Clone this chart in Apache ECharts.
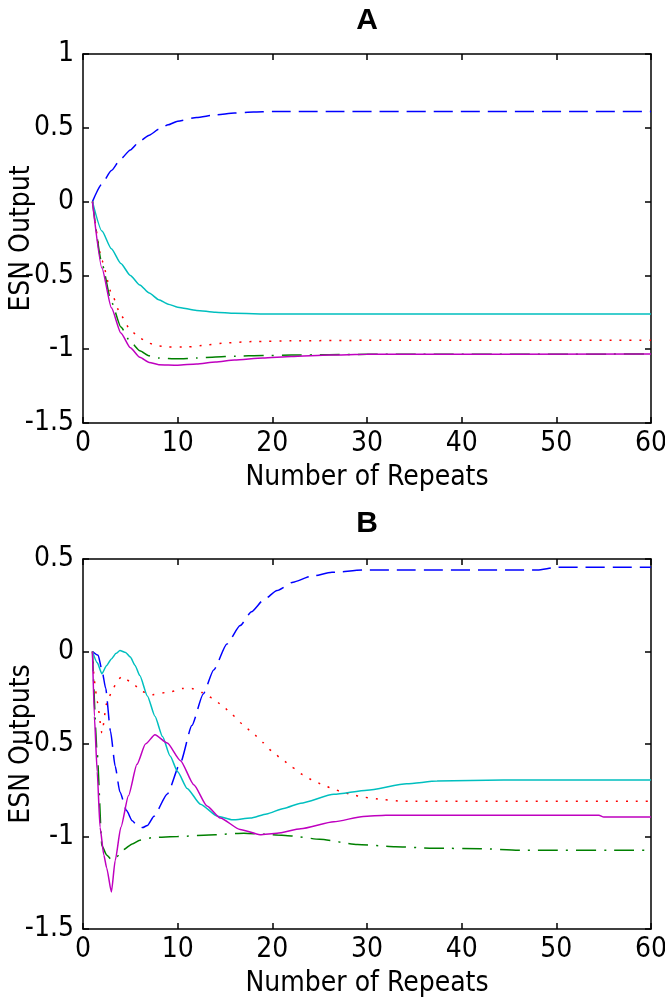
<!DOCTYPE html>
<html>
<head>
<meta charset="utf-8">
<script src="https://cdn.jsdelivr.net/npm/echarts@6/dist/echarts.min.js"></script>
<style>
html,body{margin:0;padding:0;background:#fff;}
#chart{width:665px;height:1004px;}
</style>
</head>
<body>
<div id="chart"></div>
<script>
// ---- Data ----
const xTicks = [0, 10, 20, 30, 40, 50, 60];
const yTicksA = [1, 0.5, 0, -0.5, -1, -1.5];
const yTicksB = [0.5, 0, -0.5, -1, -1.5];

// Panel A  [repeat, output]
const aBlue = [[1,0],[2,0.12],[3,0.21],[4,0.29],[5,0.35],[6,0.41],[7,0.45],[8,0.49],[9,0.52],[10,0.545],[12,0.57],[14,0.587],[16,0.6],[18,0.607],[20,0.61],[60,0.61]];
const aCyan = [[1,0],[2,-0.2],[3,-0.32],[4,-0.42],[5,-0.5],[6,-0.565],[7,-0.62],[8,-0.665],[9,-0.695],[10,-0.715],[12,-0.737],[14,-0.75],[16,-0.757],[20,-0.762],[60,-0.762]];
const aRed = [[1,0],[2,-0.4],[3,-0.62],[4,-0.77],[5,-0.87],[6,-0.925],[7,-0.96],[8,-0.978],[9,-0.985],[11,-0.985],[13,-0.972],[15,-0.958],[18,-0.948],[22,-0.943],[30,-0.94],[60,-0.94]];
const aGreen = [[1,0],[2,-0.42],[3,-0.68],[4,-0.85],[5,-0.95],[6,-1.01],[7,-1.045],[8,-1.06],[10,-1.065],[12,-1.06],[14,-1.052],[16,-1.047],[19,-1.043],[22,-1.04],[26,-1.037],[30,-1.035],[60,-1.033]];
const aMagenta = [[1,0],[2,-0.45],[3,-0.72],[4,-0.89],[5,-0.99],[6,-1.055],[7,-1.09],[8,-1.105],[10,-1.108],[12,-1.1],[14,-1.087],[16,-1.074],[19,-1.06],[22,-1.05],[26,-1.04],[30,-1.035],[60,-1.033]];

// Panel B
const bBlue = [[1,0],[1.6,-0.02],[2,-0.1],[2.4,-0.2],[2.9,-0.43],[3.4,-0.62],[3.9,-0.76],[4.6,-0.86],[5.2,-0.915],[5.8,-0.945],[6.3,-0.952],[6.8,-0.94],[7.5,-0.89],[8.9,-0.77],[10.3,-0.6],[11.5,-0.4],[12.7,-0.23],[13.8,-0.1],[15.2,0.04],[16.6,0.14],[17.8,0.215],[19.1,0.28],[20.5,0.33],[22.2,0.375],[24,0.405],[26.3,0.428],[29.6,0.44],[48,0.44],[50,0.455],[60,0.455]];
const bCyan = [[1,0],[1.5,-0.06],[2,-0.12],[2.5,-0.075],[3,-0.04],[3.5,-0.01],[3.9,0.005],[4.5,-0.005],[5,-0.03],[5.5,-0.075],[6,-0.13],[6.8,-0.24],[7.6,-0.35],[8.4,-0.46],[9.2,-0.565],[10,-0.65],[11,-0.74],[12.4,-0.825],[14.2,-0.89],[15.8,-0.91],[17.7,-0.9],[19.4,-0.878],[21.2,-0.848],[23,-0.82],[26.5,-0.772],[30,-0.75],[34.2,-0.715],[37.4,-0.7],[44.4,-0.695],[60,-0.695]];
const bRed = [[1,0],[1.2,-0.16],[1.5,-0.27],[2,-0.44],[2.5,-0.28],[3.1,-0.21],[3.6,-0.16],[4.1,-0.135],[5.2,-0.17],[6.2,-0.216],[7.3,-0.234],[9.4,-0.216],[10.5,-0.2],[11.5,-0.2],[12.6,-0.222],[13.6,-0.25],[14.7,-0.29],[15.7,-0.34],[16.8,-0.39],[17.9,-0.44],[19,-0.492],[20,-0.54],[21.1,-0.587],[22.1,-0.627],[23.2,-0.665],[24.3,-0.697],[25.3,-0.72],[26.4,-0.742],[27.4,-0.76],[28.5,-0.775],[29.5,-0.787],[31.6,-0.8],[33.8,-0.81],[60,-0.81]];
const bGreen = [[1,0],[1.5,-0.55],[2,-1.05],[2.5,-1.1],[3,-1.125],[3.6,-1.108],[4.3,-1.07],[5.2,-1.04],[6,-1.02],[7.5,-1.005],[10,-1.0],[14,-0.99],[17,-0.982],[20,-0.99],[22,-0.997],[25,-1.015],[29,-1.043],[33,-1.055],[37,-1.063],[42,-1.066],[46,-1.074],[60,-1.075]];
const bMagenta = [[1,0],[1.2,-0.35],[1.5,-0.65],[1.8,-0.95],[2.2,-1.1],[2.5,-1.17],[3,-1.3],[3.4,-1.13],[4,-0.95],[4.8,-0.78],[5.7,-0.61],[6.6,-0.5],[7.6,-0.45],[8.9,-0.495],[10.3,-0.59],[11.7,-0.72],[13.1,-0.835],[14.5,-0.9],[16.6,-0.962],[18.7,-0.99],[20.5,-0.982],[23,-0.958],[26.5,-0.92],[29.6,-0.892],[32,-0.885],[54.5,-0.885],[55,-0.895],[60,-0.895]];

// ---- Styles ----
const FONT = "'Liberation Sans Narrow','DejaVu Sans Condensed','Liberation Sans',sans-serif";
const FS = 28;
const COL = {blue:'#0000ff', cyan:'#00bfbf', red:'#ff0000', green:'#008000', magenta:'#bf00bf'};
const DASH = {blue:[19,8], red:[2,8], green:[20,8,2,8]};

const chart = echarts.init(document.getElementById('chart'), null, {renderer:'canvas'});

const grids = [
  {left:83, top:54, width:568, height:369, outerBoundsMode:'none', containLabel:false},
  {left:83, top:559, width:568, height:370, outerBoundsMode:'none', containLabel:false}
];

function xAx(gi, main){
  return {
    type:'value', gridIndex:gi, min:xTicks[0], max:xTicks[xTicks.length-1], interval:10,
    position: main ? 'bottom' : 'top',
    name: main ? 'Number of Repeats' : '', nameLocation:'middle', nameGap:41, nameMoveOverlap:false,
    nameTextStyle:{fontFamily:FONT, fontSize:FS, color:'#000'},
    axisLine:{show:true, onZero:false, lineStyle:{color:'#000', width:1.5}},
    axisTick:{show:true, inside:true, length:6, lineStyle:{color:'#000', width:1.5}},
    axisLabel:{show:main, margin:7, fontFamily:FONT, fontSize:FS, color:'#000'},
    splitLine:{show:false}
  };
}
function yAx(gi, main, mn, mx, nm){
  return {
    type:'value', gridIndex:gi, min:mn, max:mx, interval:0.5,
    position: main ? 'left' : 'right',
    name: main ? nm : '', nameLocation:'middle', nameGap:47, nameMoveOverlap:false,
    nameTextStyle:{fontFamily:FONT, fontSize:FS, color:'#000'},
    axisLine:{show:true, onZero:false, lineStyle:{color:'#000', width:1.5}},
    axisTick:{show:true, inside:true, length:6, lineStyle:{color:'#000', width:1.5}},
    axisLabel:{show:main, margin:9, fontFamily:FONT, fontSize:FS, color:'#000'},
    splitLine:{show:false}
  };
}

function ser(data, color, dash, xi, yi){
  return {
    type:'line', data:data, xAxisIndex:xi, yAxisIndex:yi,
    showSymbol:false, symbol:'none', smooth:0.2, smoothMonotone:'x', animation:false,
    lineStyle:{color:color, width:1.5, type:dash}
  };
}

const option = {
  animation:false,
  backgroundColor:'#fff',
  title:[
    {text:'A', left:367, top:6, textAlign:'center', padding:0,
     textStyle:{fontFamily:"'Liberation Sans',Arial,sans-serif", fontWeight:'bold', fontSize:30, color:'#000'}},
    {text:'B', left:367, top:509, textAlign:'center', padding:0,
     textStyle:{fontFamily:"'Liberation Sans',Arial,sans-serif", fontWeight:'bold', fontSize:30, color:'#000'}}
  ],
  grid:grids,
  xAxis:[xAx(0,true), xAx(0,false), xAx(1,true), xAx(1,false)],
  yAxis:[yAx(0,true,yTicksA[yTicksA.length-1],yTicksA[0],'ESN Output'), yAx(0,false,-1.5,1),
         yAx(1,true,yTicksB[yTicksB.length-1],yTicksB[0],'ESN Outputs'), yAx(1,false,-1.5,0.5)],
  series:[
    ser(aBlue, COL.blue, DASH.blue, 0, 0),
    ser(aRed, COL.red, DASH.red, 0, 0),
    ser(aGreen, COL.green, DASH.green, 0, 0),
    ser(aCyan, COL.cyan, 'solid', 0, 0),
    ser(aMagenta, COL.magenta, 'solid', 0, 0),
    ser(bBlue, COL.blue, DASH.blue, 2, 2),
    ser(bRed, COL.red, DASH.red, 2, 2),
    ser(bGreen, COL.green, DASH.green, 2, 2),
    ser(bCyan, COL.cyan, 'solid', 2, 2),
    ser(bMagenta, COL.magenta, 'solid', 2, 2)
  ]
};
chart.setOption(option);
</script>
</body>
</html>
